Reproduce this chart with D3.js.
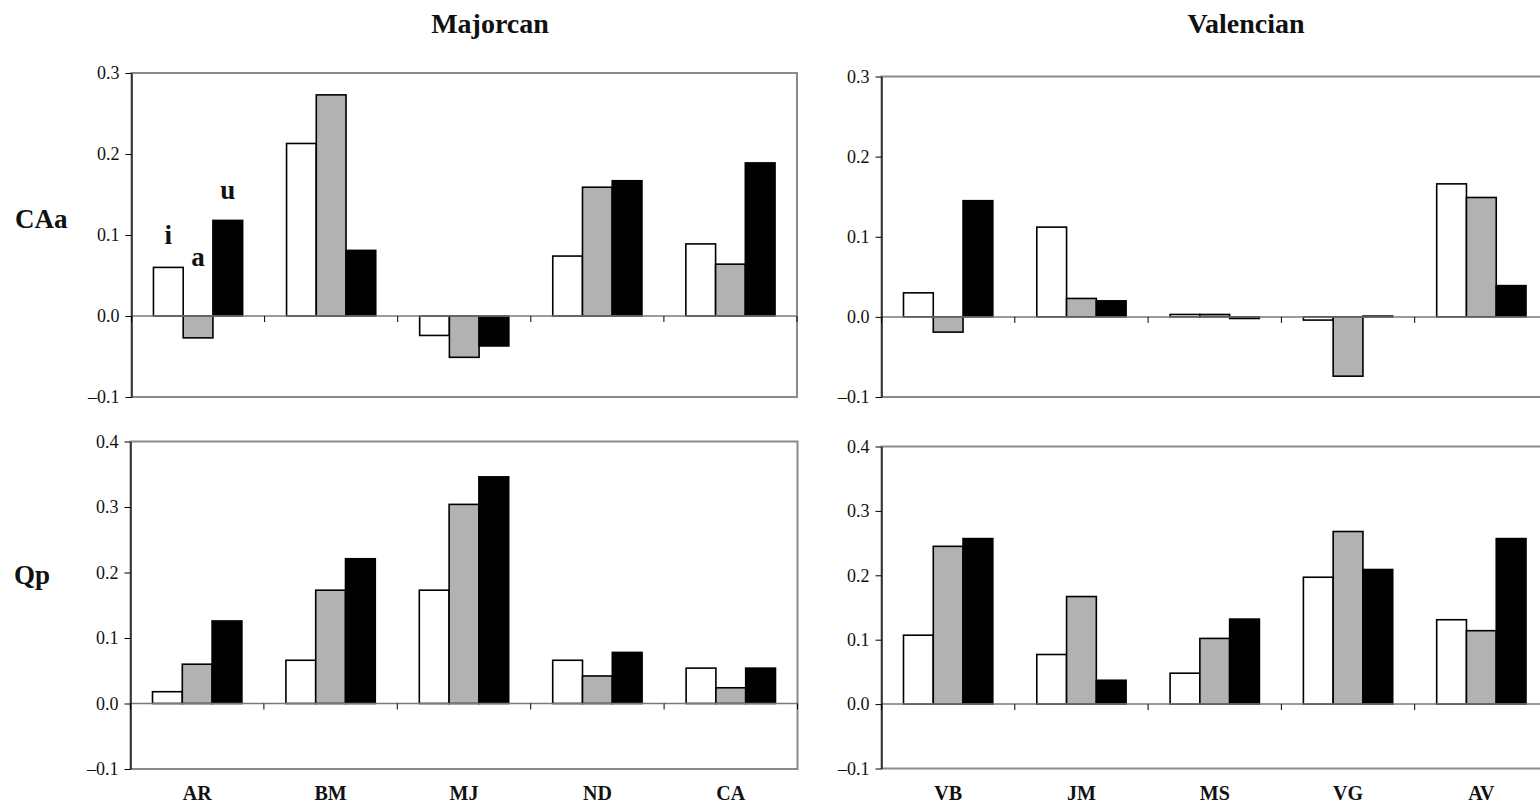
<!DOCTYPE html>
<html>
<head>
<meta charset="utf-8">
<script src="https://cdn.jsdelivr.net/npm/d3@7"></script>
<style>
  body { margin: 0; background: #fff; }
  svg { display: block; font-family: "Liberation Serif", "Times New Roman", serif; }
</style>
</head>
<body>
<svg id="chart"></svg>
<script>
// Chart size
const width = 1540;
const height = 806;

// Data
const majorcanCats = ["AR", "BM", "MJ", "ND", "CA"];
const valencianCats = ["VB", "JM", "MS", "VG", "AV"];
const vowels = ["i", "a", "u"];

const caaMajorcan = [[0.060, -0.027, 0.118], [0.213, 0.273, 0.081], [-0.024, -0.051, -0.037], [0.074, 0.159, 0.167], [0.089, 0.064, 0.189]];
const caaValencian = [[0.030, -0.019, 0.145], [0.112, 0.023, 0.020], [0.003, 0.003, -0.002], [-0.004, -0.074, 0.001], [0.166, 0.149, 0.039]];
const qpMajorcan = [[0.018, 0.060, 0.126], [0.066, 0.173, 0.221], [0.173, 0.304, 0.346], [0.066, 0.042, 0.078], [0.054, 0.024, 0.054]];
const qpValencian = [[0.107, 0.245, 0.257], [0.077, 0.167, 0.037], [0.048, 0.102, 0.132], [0.197, 0.268, 0.209], [0.131, 0.114, 0.257]];

const caaTicks = [-0.1, 0, 0.1, 0.2, 0.3];
const qpTicks = [-0.1, 0, 0.1, 0.2, 0.3, 0.4];

const fills = { i: "#ffffff", a: "#b2b2b2", u: "#000000" };

const svg = d3.select("#chart")
    .attr("width", width)
    .attr("height", height);

// Panel boxes (plot areas)
const panels = [
    { cats: majorcanCats, values: caaMajorcan, ticks: caaTicks, x0: 131.5, x1: 797, y0: 73, y1: 397, labels: true },
    { cats: valencianCats, values: caaValencian, ticks: caaTicks, x0: 881.5, x1: 1548, y0: 76.5, y1: 397 },
    { cats: majorcanCats, values: qpMajorcan, ticks: qpTicks, x0: 130.5, x1: 797.5, y0: 441.5, y1: 769, cats_below: true },
    { cats: valencianCats, values: qpValencian, ticks: qpTicks, x0: 881.5, x1: 1548, y0: 446.5, y1: 768.5, cats_below: true }
];

function fmt(d) {
    return (d < 0 ? "\u2013" : "") + d3.format(".1f")(Math.abs(d));
}

panels.forEach(p => {
    const x = d3.scaleBand()
        .domain(p.cats)
        .range([p.x0, p.x1])
        .paddingInner(0.33)
        .paddingOuter(0.165);

    const xs = d3.scaleBand()
        .domain(vowels)
        .range([0, x.bandwidth()]);

    const y = d3.scaleLinear()
        .domain([d3.min(p.ticks), d3.max(p.ticks)])
        .range([p.y1, p.y0]);

    const g = svg.append("g");

    // frame
    g.append("rect")
        .attr("x", p.x0)
        .attr("y", p.y0)
        .attr("width", p.x1 - p.x0)
        .attr("height", p.y1 - p.y0)
        .attr("fill", "none")
        .attr("stroke", "#8a8a8a")
        .attr("stroke-width", 2);

    // bars
    const groups = g.selectAll(".grp")
        .data(p.values)
        .enter().append("g")
        .attr("transform", (d, i) => `translate(${x(p.cats[i])},0)`);

    groups.selectAll("rect")
        .data(d => d.map((v, j) => ({ v: v, k: vowels[j] })))
        .enter().append("rect")
        .attr("x", d => xs(d.k))
        .attr("width", xs.bandwidth())
        .attr("y", d => y(Math.max(0, d.v)))
        .attr("height", d => Math.abs(y(d.v) - y(0)))
        .attr("fill", d => fills[d.k])
        .attr("stroke", "#000")
        .attr("stroke-width", 1.6);

    // zero line
    g.append("line")
        .attr("x1", p.x0)
        .attr("x2", p.x1)
        .attr("y1", y(0))
        .attr("y2", y(0))
        .attr("stroke", "#7a7a7a")
        .attr("stroke-width", 1.5);

    // category ticks on the zero line
    g.selectAll(".ctick")
        .data(d3.range(p.cats.length + 1))
        .enter().append("line")
        .attr("x1", i => p.x0 + x.step() * i)
        .attr("x2", i => p.x0 + x.step() * i)
        .attr("y1", y(0))
        .attr("y2", y(0) + 6)
        .attr("stroke", "#000")
        .attr("stroke-width", 1);

    // y axis
    const axis = g.append("g")
        .attr("transform", `translate(${p.x0},0)`)
        .call(d3.axisLeft(y).tickValues(p.ticks).tickFormat(fmt).tickSize(6).tickSizeOuter(0).tickPadding(6));
    axis.select(".domain").attr("stroke", "#000").attr("stroke-width", 1.2);
    axis.selectAll(".tick line").attr("stroke", "#000");
    axis.selectAll(".tick text")
        .attr("fill", "#111")
        .style("font-family", "'Liberation Serif', 'Times New Roman', serif")
        .style("font-size", "18px");

    // category labels
    if (p.cats_below) {
        g.selectAll(".clab")
            .data(p.cats)
            .enter().append("text")
            .attr("x", d => x(d) + x.bandwidth() / 2)
            .attr("y", 800)
            .attr("text-anchor", "middle")
            .attr("font-weight", "bold")
            .attr("font-size", 20)
            .attr("fill", "#111")
            .text(d => d);
    }

    // vowel labels over the first group
    if (p.labels) {
        const first = p.values[0];
        const lab = [
            { k: "i", dy: -23 },
            { k: "a", dy: -50 },
            { k: "u", dy: -21 }
        ];
        lab.forEach((l, j) => {
            const v = first[j];
            g.append("text")
                .attr("x", x(p.cats[0]) + xs(l.k) + xs.bandwidth() / 2)
                .attr("y", y(Math.max(0, v)) + l.dy)
                .attr("text-anchor", "middle")
                .attr("font-weight", "bold")
                .attr("font-size", 27)
                .attr("fill", "#111")
                .text(l.k);
        });
    }
});

// Column titles
svg.append("text").attr("x", 490).attr("y", 33).attr("text-anchor", "middle")
    .attr("font-weight", "bold").attr("font-size", 28).attr("fill", "#111").text("Majorcan");
svg.append("text").attr("x", 1246).attr("y", 33).attr("text-anchor", "middle")
    .attr("font-weight", "bold").attr("font-size", 28).attr("fill", "#111").text("Valencian");

// Row titles
svg.append("text").attr("x", 15).attr("y", 228)
    .attr("font-weight", "bold").attr("font-size", 27).attr("fill", "#111").text("CAa");
svg.append("text").attr("x", 14).attr("y", 584)
    .attr("font-weight", "bold").attr("font-size", 27).attr("fill", "#111").text("Qp");
</script>
</body>
</html>
